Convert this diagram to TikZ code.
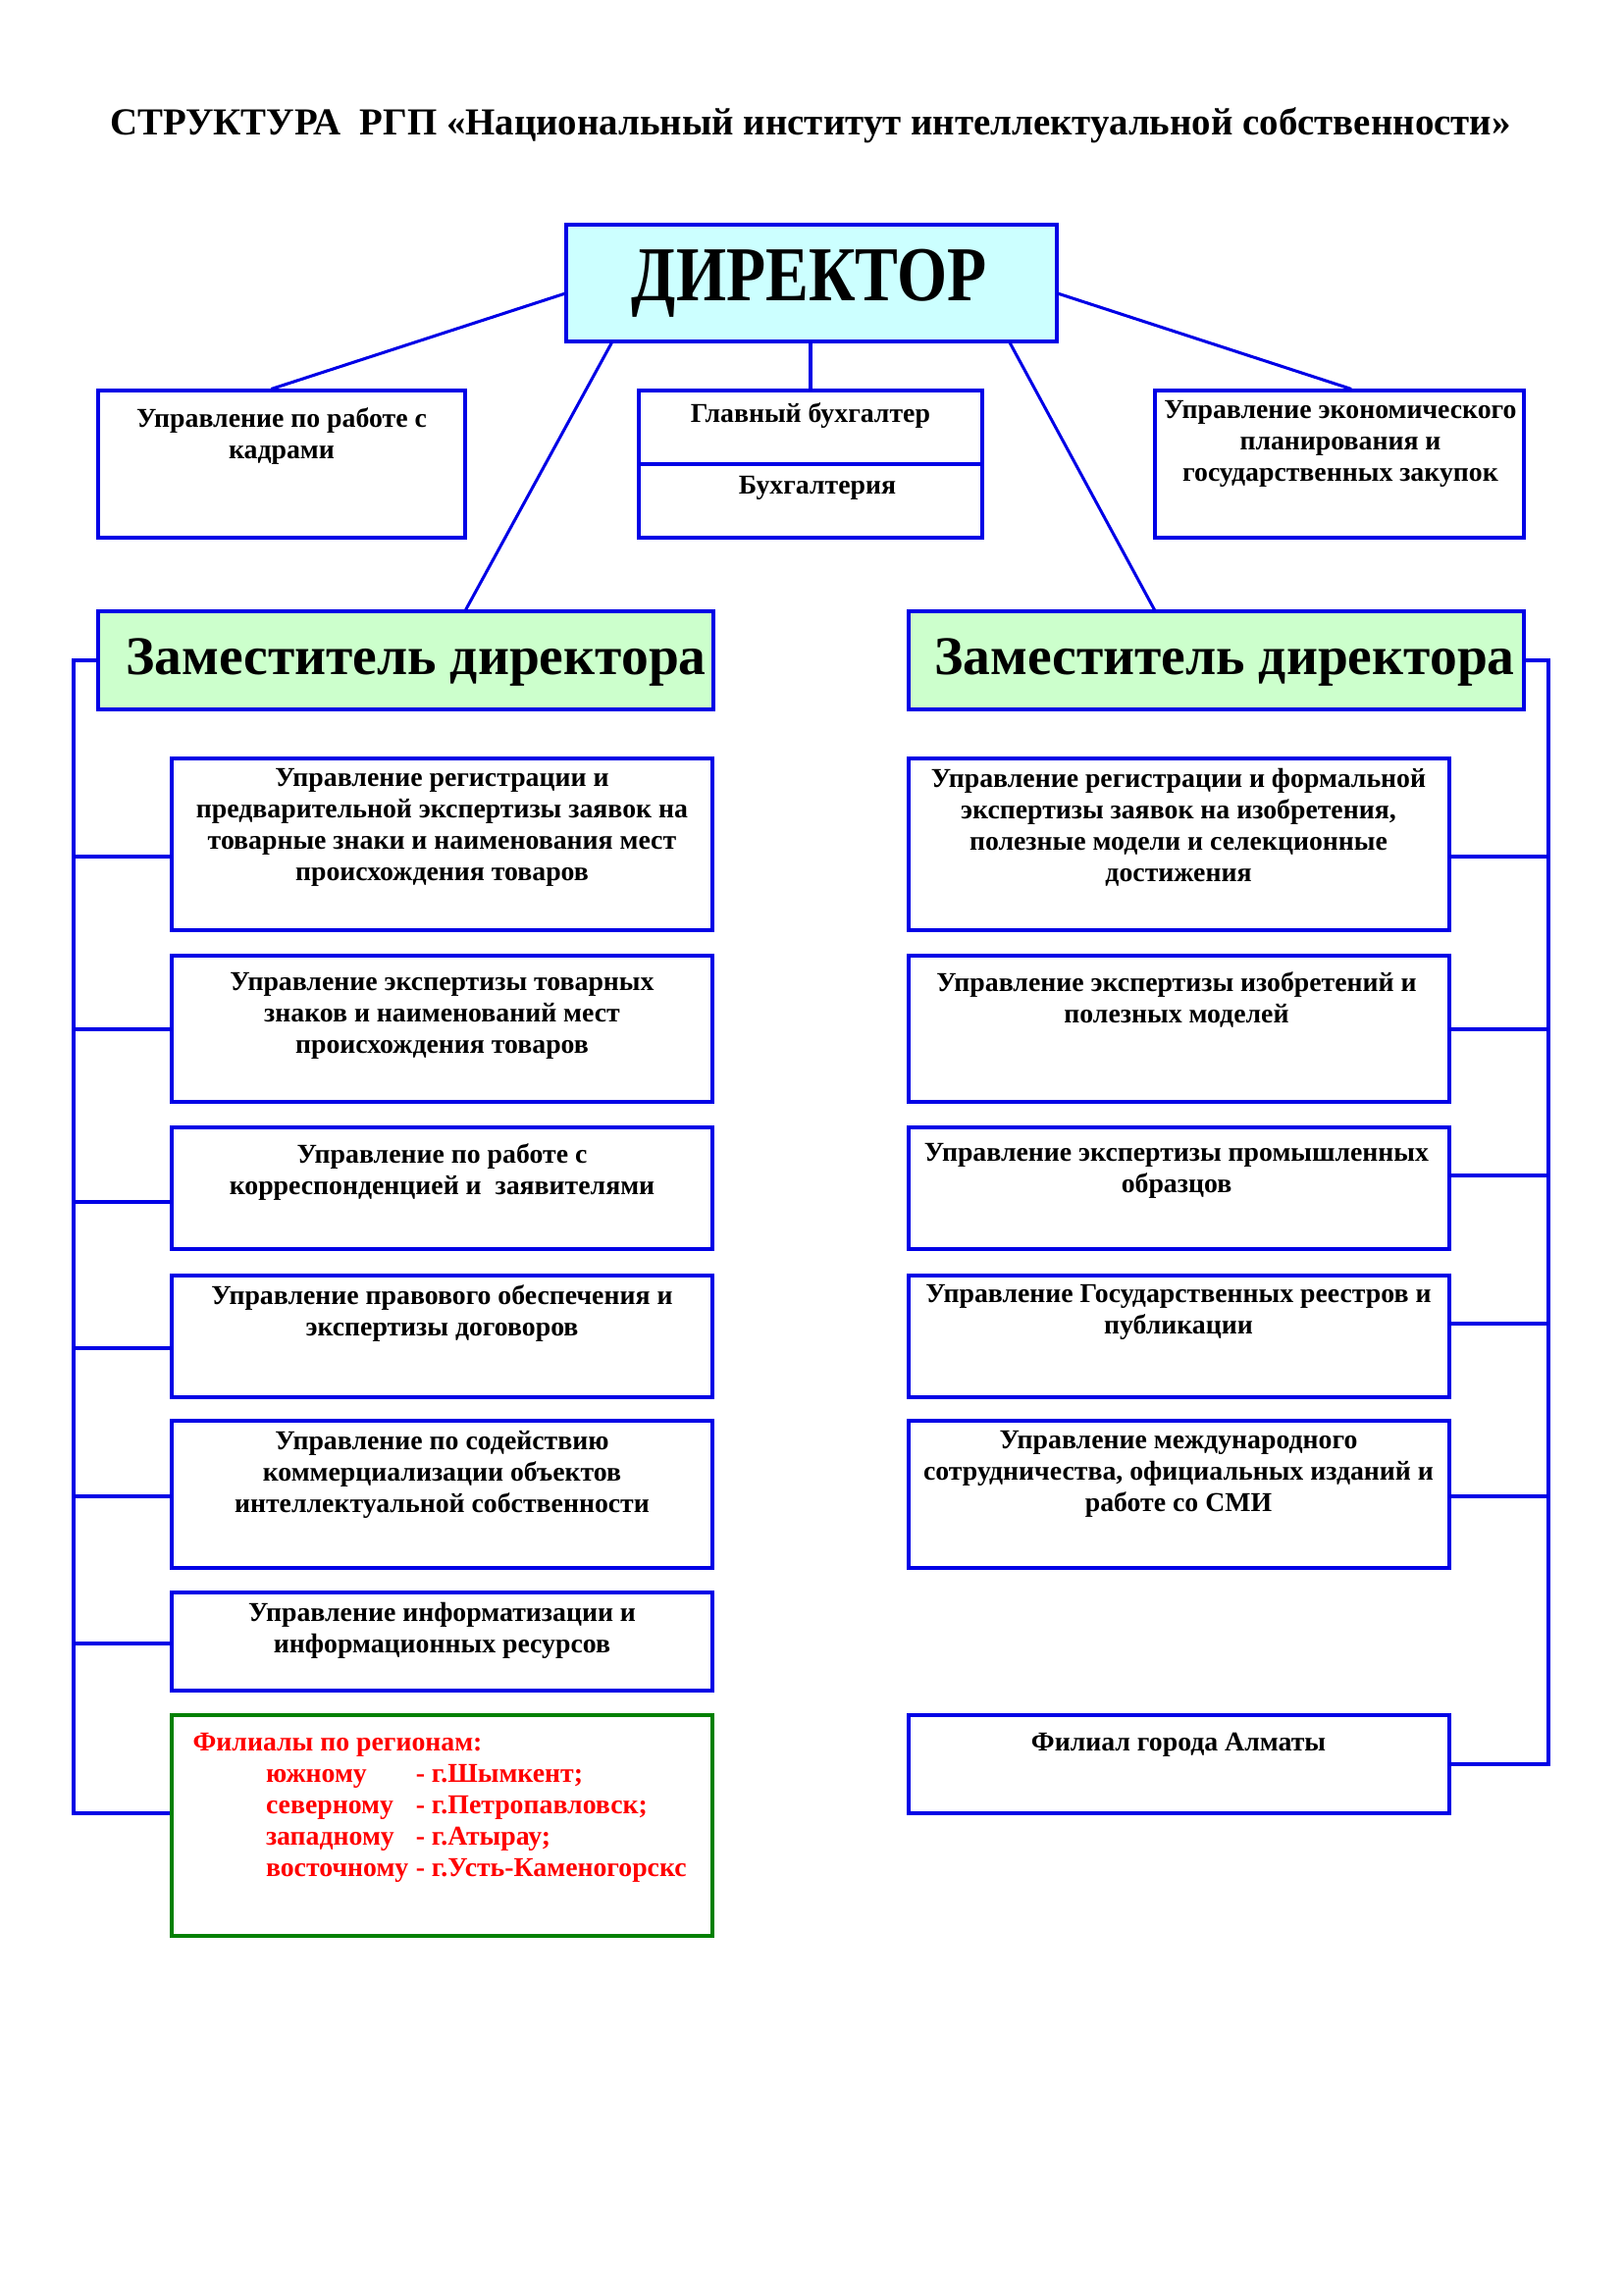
\documentclass[tikz,border=0pt]{standalone}
\usepackage{fontspec}
\usepackage{graphicx}
\setmainfont{Liberation Serif}
\usetikzlibrary{fit,calc}
\definecolor{lblue}{RGB}{0,0,230}
\definecolor{dgreen}{RGB}{0,128,0}
\definecolor{fred}{RGB}{255,0,0}
\definecolor{dircyan}{RGB}{204,255,255}
\definecolor{depgreen}{RGB}{204,255,204}
\tikzset{
  box/.style={draw=lblue, line width=1.1pt, inner sep=0pt},
  gbox/.style={draw=dgreen, line width=1.1pt, inner sep=0pt},
  conn/.style={draw=lblue, line width=1.1pt},
  txt/.style={font=\bfseries\fontsize{10}{11.52}\selectfont, align=center, inner sep=0pt, anchor=north},
  redtxt/.style={font=\bfseries\fontsize{10}{11.52}\selectfont, text=fred, align=left, inner sep=0pt, anchor=north west},
  titletxt/.style={font=\bfseries\fontsize{14}{16}\selectfont, inner sep=0pt, anchor=base},
  dirtxt/.style={font=\bfseries\fontsize{28.5}{30}\selectfont, inner sep=0pt, anchor=base},
  deptxt/.style={font=\bfseries\fontsize{20}{22}\selectfont, inner sep=0pt, anchor=base},
}
\begin{document}
\begin{tikzpicture}[x=0.36pt,y=-0.36pt]
\fill[white] (0,0) rectangle (1654,2339);
\useasboundingbox (0,0) rectangle (1654,2339);

% title
\node[titletxt] (title) at (826,137) {СТРУКТУРА\ \ РГП «Национальный институт интеллектуальной собственности»};

% director
\node[box, fill=dircyan, fit={(577,229) (1077,348)}] (dir) {};
\node[dirtxt] (dirt) at (825,306) {\scalebox{0.83}[1]{ДИРЕКТОР}};

% top row
\node[box, fit={(100,398) (474,548)}] (kadr) {};
\node[txt] (kadrt) at (287,415) {Управление по работе с\\кадрами};
\node[box, fit={(651,398) (1001,473)}] (gb) {};
\node[txt] (gbt) at (826,410) {Главный бухгалтер};
\node[box, fit={(651,473) (1001,548)}] (buh) {};
\node[txt] (buht) at (833,485) {Бухгалтерия};
\node[box, fit={(1177,398) (1553,548)}] (econ) {};
\node[txt] (econt) at (1366,408) {Управление экономического\\планирования и\\государственных закупок};

% deputies
\node[box, fill=depgreen, fit={(100,623) (727,723)}] (depL) {};
\node[deptxt] (depLt) at (424,687) {Заместитель директора};
\node[box, fill=depgreen, fit={(926,623) (1553,723)}] (depR) {};
\node[deptxt] (depRt) at (1248,687) {Заместитель директора};

% connectors from director
\draw[conn] ($(dir.north west)!0.588!(dir.south west)$) -- ($(kadr.north west)!0.472!(kadr.north east)$);
\draw[conn] ($(dir.north east)!0.588!(dir.south east)$) -- ($(econ.north west)!0.532!(econ.north east)$);
\draw[conn] (gb.north |- dir.south) -- (gb.north);
\draw[conn] ($(dir.south west)!0.095!(dir.south east)$) -- ($(depL.north west)!0.597!(depL.north east)$);
\draw[conn] ($(dir.south west)!0.902!(dir.south east)$) -- ($(depR.north west)!0.400!(depR.north east)$);

% left column
\node[box, fit={(175,773) (726,948)}] (l1) {};
\node[txt] (l1t) at (450.5,783) {Управление регистрации и\\предварительной экспертизы заявок на\\товарные знаки и наименования мест\\происхождения товаров};
\node[box, fit={(175,974) (726,1123)}] (l2) {};
\node[txt] (l2t) at (450.5,991) {Управление экспертизы товарных\\знаков и наименований мест\\происхождения товаров};
\node[box, fit={(175,1149) (726,1273)}] (l3) {};
\node[txt] (l3t) at (450.5,1165) {Управление по работе с\\корреспонденцией и\ \ заявителями};
\node[box, fit={(175,1300) (726,1424)}] (l4) {};
\node[txt] (l4t) at (450.5,1309) {Управление правового обеспечения и\\экспертизы договоров};
\node[box, fit={(175,1448) (726,1598)}] (l5) {};
\node[txt] (l5t) at (450.5,1458) {Управление по содействию\\коммерциализации объектов\\интеллектуальной собственности};
\node[box, fit={(175,1623) (726,1723)}] (l6) {};
\node[txt] (l6t) at (450.5,1633) {Управление информатизации и\\информационных ресурсов};
\node[gbox, fit={(175,1748) (726,1973)}] (l7) {};
\node[redtxt] (l7t) at (196,1766) {Филиалы по регионам:\\
\hspace*{26.8pt}\makebox[55pt][l]{южному}- г.Шымкент;\\
\hspace*{26.8pt}\makebox[55pt][l]{северному}- г.Петропавловск;\\
\hspace*{26.8pt}\makebox[55pt][l]{западному}- г.Атырау;\\
\hspace*{26.8pt}\makebox[55pt][l]{восточному}- г.Усть-Каменогорскс};

% right column
\node[box, fit={(926,773) (1477,948)}] (r1) {};
\node[txt] (r1t) at (1201,783) {Управление регистрации и формальной\\экспертизы заявок на изобретения,\\полезные модели и селекционные\\достижения};
\node[box, fit={(926,974) (1477,1123)}] (r2) {};
\node[txt] (r2t) at (1199,990) {Управление экспертизы изобретений и\\полезных моделей};
\node[box, fit={(926,1149) (1477,1273)}] (r3) {};
\node[txt] (r3t) at (1199,1165) {Управление экспертизы промышленных\\образцов};
\node[box, fit={(926,1300) (1477,1424)}] (r4) {};
\node[txt] (r4t) at (1201,1309) {Управление Государственных реестров и\\публикации};
\node[box, fit={(926,1448) (1477,1598)}] (r5) {};
\node[txt] (r5t) at (1201,1458) {Управление международного\\сотрудничества, официальных изданий и\\работе со СМИ};
\node[box, fit={(926,1748) (1477,1848)}] (r6) {};
\node[txt] (r6t) at (1201,1766) {Филиал города Алматы};

% left bus
\coordinate (busL) at (75,673);
\coordinate (busLend) at (75,1848);
\draw[conn] (depL.west) -- (busL) -- (busLend) -- (l7.west |- busLend);
\draw[conn] (l1.west |- 0,873) -- (busL |- 0,873);
\draw[conn] (l2.west |- 0,1049) -- (busL |- 0,1049);
\draw[conn] (l3.west |- 0,1225) -- (busL |- 0,1225);
\draw[conn] (l4.west |- 0,1374) -- (busL |- 0,1374);
\draw[conn] (l5.west |- 0,1525) -- (busL |- 0,1525);
\draw[conn] (l6.west |- 0,1675) -- (busL |- 0,1675);

% right bus
\coordinate (busR) at (1578,673);
\coordinate (busRend) at (1578,1798);
\draw[conn] (depR.east) -- (busR) -- (busRend) -- (r6.east |- busRend);
\draw[conn] (r1.east |- 0,873) -- (busR |- 0,873);
\draw[conn] (r2.east |- 0,1049) -- (busR |- 0,1049);
\draw[conn] (r3.east |- 0,1198) -- (busR |- 0,1198);
\draw[conn] (r4.east |- 0,1349) -- (busR |- 0,1349);
\draw[conn] (r5.east |- 0,1525) -- (busR |- 0,1525);
\end{tikzpicture}
\end{document}
